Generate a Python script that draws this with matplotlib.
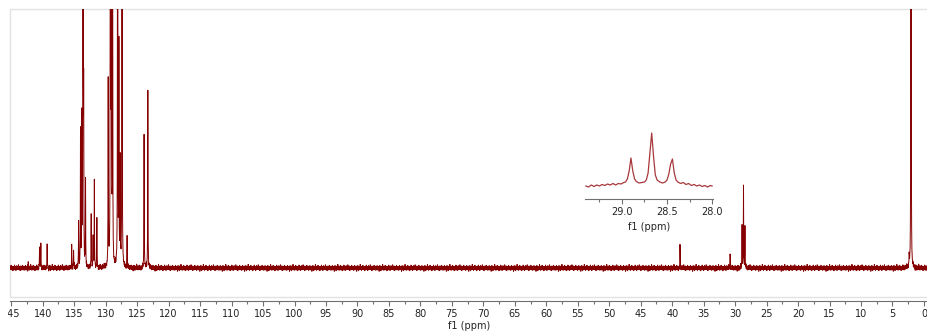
import numpy as np
import matplotlib
matplotlib.use("Agg")
import matplotlib.pyplot as plt
from matplotlib.patches import Rectangle
from matplotlib.transforms import Bbox

# peak list (ppm, height above baseline in px-like units)
peak_ppm = [142.3, 140.5, 140.3, 139.3, 135.4, 135.1, 134.3, 134.0, 133.8, 133.6,
            133.5, 133.2, 132.3, 132.0, 131.8, 131.4, 129.6, 129.25, 129.1, 128.9,
            128.1, 127.9, 127.7, 127.4, 126.6, 123.9, 123.3, 38.75, 30.8,
            28.90, 28.67, 28.44, 2.35, 2.06]
peak_height = [6, 22, 24, 26, 21, 19, 44, 134, 145, 600,
               162, 85, 52, 30, 84, 47, 184, 700, 700, 400,
               600, 218, 107, 600, 30, 132, 180, 24, 12,
               41, 80, 40, 12, 700]

# hand-read baseline noise pattern (repeated along the trace)
noise_pattern = [0.9, -1.4, 1.7, -0.5, 2.3, -2.0, 0.3, 1.2, -2.4, 0.6, -1.1, 1.8,
                 -1.5, 2.9, -0.8, 0.2, -2.1, 1.4, -0.6, 1.1, -2.7, 1.1, 0.5, -1.2,
                 2.0, -0.3, -1.8, 2.6, -0.9, 0.6, -1.4, 1.4, -2.3, 0.8, 1.8, -0.6,
                 -1.7, 3.6, -1.1, 0.2, -1.8, 1.5, -0.2, 0.9, -2.7, 2.1, -1.1, 0.3,
                 -1.4, 2.3, -0.5, -3.3, 1.2, 0.6, -1.5, 1.7, -0.8, 0.2, -2.0, 2.4,
                 -0.6, 1.1, -1.2, 1.5, -2.3, 0.5, 1.8, -0.9, -0.3, 1.1, -1.8, 2.7,
                 -1.5, 0.6, -0.6, 1.4, -2.1, 0.8, -0.2, 2.0, -2.6, 0.3, 1.5, -1.1,
                 0.6, -1.7, 3.2, -1.1, 0.0]

# inset trace (28.0 - 29.4 ppm)
inset_ppm = [29.40, 29.37, 29.34, 29.31, 29.28, 29.25, 29.22, 29.19, 29.16, 29.13,
             29.10, 29.07, 29.04, 29.01, 28.98, 28.96, 28.94, 28.92, 28.90, 28.88,
             28.86, 28.84, 28.81, 28.78, 28.75, 28.73, 28.71, 28.69, 28.67, 28.65,
             28.63, 28.61, 28.58, 28.55, 28.52, 28.50, 28.48, 28.46, 28.44, 28.42,
             28.40, 28.38, 28.35, 28.32, 28.29, 28.26, 28.23, 28.20, 28.17, 28.14,
             28.11, 28.08, 28.05, 28.02, 28.00]
inset_intensity = [0, -1, 1, -0.5, 1, 0, 1.5, 0.5, 2, 1,
                   2.5, 1, 2.5, 2, 3.5, 4, 7, 15, 28, 15,
                   7, 4.5, 3, 3.5, 4, 6, 13, 33, 53, 30,
                   11, 6, 4, 3, 4, 6, 12, 22, 27, 13,
                   6, 4, 2.5, 3.5, 1.5, 2.5, 0.5, 1.5, 0, 1,
                   -0.5, 0.5, -1, 0.5, 0]

main_ticks = list(range(145, -1, -5))
inset_ticks = [29.0, 28.5, 28.0]

W, H = 928, 332
fig = plt.figure(figsize=(W / 100, H / 100), dpi=100)
plt.rcParams["font.family"] = ["DejaVu Sans"]

line_color = "#850000"
axis_color = "#707070"

# main spectrum: coarse sampling plus the peak centres
ax = fig.add_axes([10 / W, 35 / H, 918 / W, 288 / H])
ppm = np.union1d(np.arange(-0.64, 145.2, 0.04), peak_ppm)
g = 0.025
spec = np.zeros_like(ppm)
for p, h in zip(peak_ppm, peak_height):
    spec += h * g ** 2 / ((ppm - p) ** 2 + g ** 2)
spec += np.resize(noise_pattern, ppm.size)
ax.plot(ppm, spec, color=line_color, lw=0.7)
ax.set_xlim(145.2, -0.64)
ax.set_ylim(-29, 259)
ax.set_yticks([])
for s in ["top", "left", "right"]:
    ax.spines[s].set_visible(False)
ax.spines["bottom"].set_position(("outward", 3))
ax.spines["bottom"].set_color(axis_color)
ax.add_patch(Rectangle((0, 0), 1, 1, transform=ax.transAxes, fill=False,
                       edgecolor="#e2e2e2", lw=1, clip_on=False))
ax.set_xticks(main_ticks)
ax.set_xticks(np.arange(142.5, 0, -5), minor=True)
ax.tick_params(axis="x", which="major", direction="out", length=3.5, width=0.8,
               color=axis_color, labelsize=7, labelcolor="#222222", pad=2)
ax.tick_params(axis="x", which="minor", direction="out", length=2, width=0.8,
               color=axis_color)
ax.set_xlabel("f1 (ppm)", fontsize=7, color="#222222")
ax.xaxis.set_label_coords(0.5, -0.083)
ax.xaxis.label.set_va("top")
# the left-most label is cut by the edge in the original
first = ax.get_xticklabels()[0]
first.set_clip_box(Bbox.from_extents(7.5, 0, W, H))
first.set_clip_on(True)

# inset
ins = fig.add_axes([585 / W, (H - 199) / H, 128 / W, 70 / H])
ins.patch.set_visible(False)
ins.plot(inset_ppm, inset_intensity, color="#a8383c", lw=0.9)
ins.set_xlim(29.41, 27.99)
ins.set_ylim(-13, 57)
ins.set_yticks([])
for s in ["top", "left", "right"]:
    ins.spines[s].set_visible(False)
ins.spines["bottom"].set_color(axis_color)
ins.set_xticks(inset_ticks)
ins.set_xticklabels(["%.1f" % t for t in inset_ticks])
ins.set_xticks([29.25, 28.75, 28.25], minor=True)
ins.tick_params(axis="x", which="major", direction="out", length=3.5, width=0.8,
                color=axis_color, labelsize=7, labelcolor="#222222", pad=2)
ins.tick_params(axis="x", which="minor", direction="out", length=2, width=0.8,
                color=axis_color)
ins.set_xlabel("f1 (ppm)", fontsize=7, color="#222222")
ins.xaxis.set_label_coords(0.5, -0.33)
ins.xaxis.label.set_va("top")

fig.savefig("out.png", dpi=100)
